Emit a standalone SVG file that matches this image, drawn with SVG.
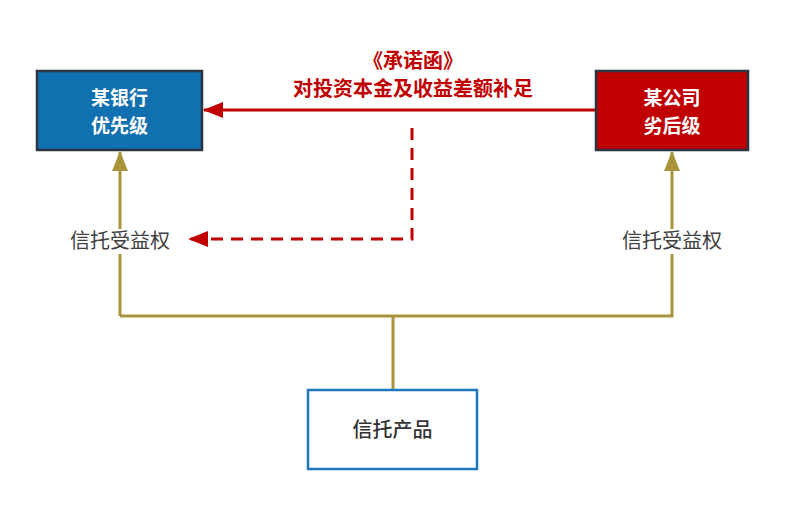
<svg xmlns="http://www.w3.org/2000/svg" width="786" height="507" viewBox="0 0 786 507">
<style>
.t{font-family:"Noto Sans CJK SC","Noto Sans",sans-serif;font-size:20px;text-anchor:middle}
.w{fill:#fff;font-weight:bold;font-size:19px}
.r{fill:#C00000;font-weight:bold}
.g{fill:#404040}
.ol{stroke:#A8943A;stroke-width:3;fill:none}
.rd{stroke:#C00000;stroke-width:3;fill:none}
</style>
<defs>
<marker id="ao" viewBox="0 0 20 16" refX="19" refY="8" markerWidth="20" markerHeight="16" orient="auto" markerUnits="userSpaceOnUse"><path d="M0,0L20,8L0,16z" fill="#A8943A"/></marker>
<marker id="ar" viewBox="0 0 20 16" refX="19" refY="8" markerWidth="20" markerHeight="16" orient="auto" markerUnits="userSpaceOnUse"><path d="M0,0L20,8L0,16z" fill="#C00000"/></marker>
</defs>
<rect width="786" height="507" fill="#fff"/>
<g id="connectors">
<path class="ol" d="M120,316V254"/>
<path class="ol" d="M120,229V152" marker-end="url(#ao)"/>
<path class="ol" d="M120,316H672V254"/>
<path class="ol" d="M672,229V152" marker-end="url(#ao)"/>
<path class="ol" d="M393,389V316"/>
<path class="rd" d="M595,110H204" marker-end="url(#ar)"/>
<path class="rd" d="M412,128V239H189" stroke-dasharray="12,8" marker-end="url(#ar)"/>
</g>
<g id="label-top">
<text class="t r" x="413" y="68">《承诺函》</text>
<text class="t r" x="413" y="96">对投资本金及收益差额补足</text>
</g>
<g id="label-left"><text class="t g" x="120" y="248">信托受益权</text></g>
<g id="label-right"><text class="t g" x="672" y="248">信托受益权</text></g>
<g id="bank">
<rect x="37" y="71" width="165" height="79" fill="#1170AF" stroke="#2B3440" stroke-width="2.5"/>
<text class="t w" x="119.5" y="105">某银行</text>
<text class="t w" x="119.5" y="133">优先级</text>
</g>
<g id="company">
<rect x="596" y="71" width="152" height="79" fill="#C00000" stroke="#2B3440" stroke-width="2.5"/>
<text class="t w" x="672" y="105">某公司</text>
<text class="t w" x="672" y="133">劣后级</text>
</g>
<g id="product">
<rect x="308" y="390" width="169" height="79" fill="#fff" stroke="#1F77BC" stroke-width="2.5"/>
<text class="t" x="392.5" y="437" fill="#333" font-weight="500">信托产品</text>
</g>
</svg>
